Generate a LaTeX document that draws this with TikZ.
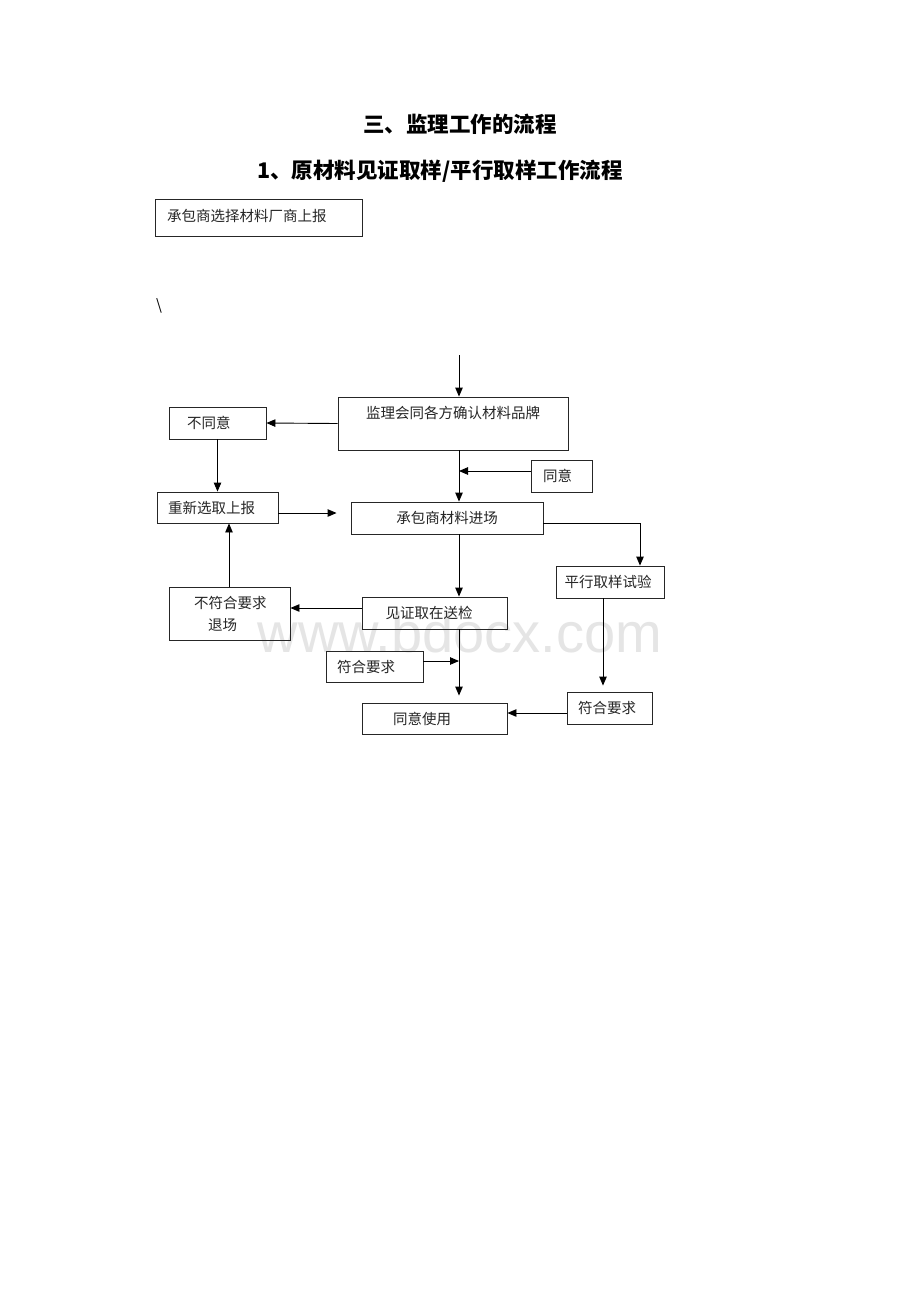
\documentclass[tikz,border=0pt]{standalone}
\usepackage{fontspec}
\newfontfamily\cjk{Noto Sans CJK SC}
\newfontfamily\wm{Liberation Sans}
\usetikzlibrary{arrows.meta,calc}
\begin{document}
\begin{tikzpicture}[x=1pt,y=-1pt,
  box/.style={draw=black!85,line width=0.9pt,inner sep=0pt,rectangle},
  lbl/.style={font=\cjk\fontsize{14.5}{16}\selectfont,inner sep=0pt,text=black!85},
  arr/.style={draw=black,line width=0.9pt,-{Triangle[length=9pt,width=7.5pt]}},
  ln/.style={draw=black,line width=0.9pt}]
\useasboundingbox[fill=white] (0,0) rectangle (920,1302);
% watermark
\node[font=\wm\fontsize{56}{60}\selectfont,text=black!10,inner sep=0pt] (wm) at (460,632) {www.bdocx.com};
% titles
\node[font=\cjk\bfseries\fontsize{21.5}{24}\selectfont,inner sep=0pt] (t1) at (460,124) {三、监理工作的流程};
\node[font=\cjk\bfseries\fontsize{21.5}{24}\selectfont,inner sep=0pt] (t2) at (440,171) {1、原材料见证取样/平行取样工作流程};
% first box
\node[box,minimum width=207pt,minimum height=37pt] (b0) at (258.5,217.5) {};
\node[lbl,anchor=west] (b0t) at (167,216) {承包商选择材料厂商上报};
\node[font=\cjk\fontsize{15}{16}\selectfont,inner sep=0pt] (bs) at (159,306) {\textbackslash};
% boxes
\node[box,minimum width=230pt,minimum height=53pt] (bJL) at (453,423.5) {};
\node[lbl] (bJLt) at (453,413) {监理会同各方确认材料品牌};
\node[box,minimum width=97pt,minimum height=32pt] (bNo) at (217.5,423) {};
\node[lbl,anchor=west] (bNot) at (187,423) {不同意};
\node[box,minimum width=61pt,minimum height=32pt] (bTY) at (561.5,476) {};
\node[lbl,anchor=west] (bTYt) at (543,476) {同意};
\node[box,minimum width=121pt,minimum height=31pt] (bCX) at (217.5,507.5) {};
\node[lbl,anchor=west] (bCXt) at (168,507.5) {重新选取上报};
\node[box,minimum width=192pt,minimum height=32pt] (bJC) at (447,518) {};
\node[lbl] (bJCt) at (447,518) {承包商材料进场};
\node[box,minimum width=108pt,minimum height=32pt] (bPX) at (610,582) {};
\node[lbl] (bPXt) at (608,582) {平行取样试验};
\node[box,minimum width=121pt,minimum height=53pt] (bBF) at (229.5,613.5) {};
\node[lbl,anchor=west] (bBFt1) at (194,603) {不符合要求};
\node[lbl,anchor=west] (bBFt2) at (208,625) {退场};
\node[box,minimum width=145pt,minimum height=32pt] (bJZ) at (434.5,613) {};
\node[lbl] (bJZt) at (429,613) {见证取在送检};
\node[box,minimum width=97pt,minimum height=31pt] (bFH1) at (374.5,666.5) {};
\node[lbl,anchor=west] (bFH1t) at (337,666.5) {符合要求};
\node[box,minimum width=145pt,minimum height=31pt] (bSY) at (434.5,718.5) {};
\node[lbl] (bSYt) at (422,718.5) {同意使用};
\node[box,minimum width=85pt,minimum height=32pt] (bFH2) at (609.5,708) {};
\node[lbl,anchor=west] (bFH2t) at (578,708) {符合要求};
% helper coordinates
\coordinate (sp) at (459,0);
\coordinate (top) at (459,355);
\coordinate (rx) at (640,0);
\coordinate (bx) at (229,0);
\coordinate (px) at (603,0);
% connectors
\draw[arr] (top) -- (top |- bJL.north);
\draw[arr] (bJL.west) -- (bNo.east);
\draw[arr] (bNo.south) -- (bNo.south |- bCX.north);
\draw[arr,shorten >=14pt] ([yshift=-5.5pt]bCX.east) -- ([yshift=-5.5pt]bCX.east -| bJC.west);
\draw[arr] (bJL.south -| sp) -- (bJC.north -| sp);
\draw[arr] ([yshift=5pt]bTY.west) -- ([yshift=5pt]bTY.west -| sp);
\draw[arr] ([yshift=-5pt]bJC.east) -| (bPX.north -| rx);
\draw[arr] (bJC.south -| sp) -- (bJZ.north -| sp);
\draw[arr] ([yshift=5pt]bJZ.west) -- ([yshift=5pt]bJZ.west -| bBF.east);
\draw[arr] (bBF.north -| bx) -- (bCX.south -| bx);
\draw[arr,shorten >=7pt] (bJZ.south -| sp) -- (bSY.north -| sp);
\draw[arr] ([yshift=5.5pt]bFH1.east) -- ([yshift=5.5pt]bFH1.east -| sp);
\draw[arr,shorten >=6pt] (bPX.south -| px) -- (bFH2.north -| px);
\draw[arr] ([yshift=-5pt]bFH2.west) -- ([yshift=-5pt]bFH2.west -| bSY.east);
\end{tikzpicture}
\end{document}
